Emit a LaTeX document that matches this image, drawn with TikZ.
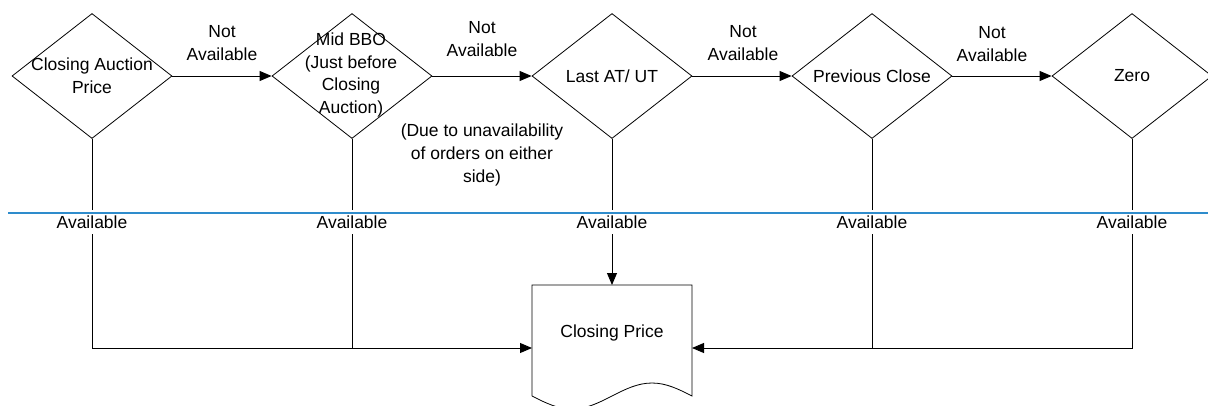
\documentclass[tikz,border=0pt]{standalone}
\usepackage{fontspec}
\setmainfont{Liberation Sans}
\usetikzlibrary{shapes.geometric,arrows.meta}
\definecolor{bluel}{RGB}{46,140,204}
\begin{document}
\begin{tikzpicture}[x=1pt,y=-1pt,
  dia/.style={draw, diamond, minimum width=160pt, minimum height=125pt, inner sep=0pt, line width=0.8pt},
  txt/.style={font=\fontsize{17.5}{22.7}\selectfont, align=center, inner sep=0pt},
  lbl/.style={txt, fill=white, inner xsep=2pt, inner ysep=5.5pt},
  conn/.style={line width=0.9pt},
  arr/.style={conn, -{Triangle[length=12pt,width=10pt]}},
  blueline/.style={draw=bluel, line width=2pt},
]
\useasboundingbox (0,0) rectangle (1208,405);
\clip (0,0) rectangle (1208,405);

% decision diamonds
\node[dia] (d1) at (92,76) {};
\node[dia] (d2) at (352,76) {};
\node[dia] (d3) at (612,76) {};
\node[dia] (d4) at (872,76) {};
\node[dia] (d5) at (1132,76) {};
\node[txt] (t1) at (92,76) {Closing Auction\\Price};
\node[txt] (t2) at (351,75) {Mid BBO\\(Just before\\Closing\\Auction)};
\node[txt] (t3) at (612,76) {Last AT/ UT};
\node[txt] (t4) at (872,76) {Previous Close};
\node[txt] (t5) at (1132,76) {Zero};

% document shape
\node[minimum width=160pt, minimum height=126pt, inner sep=0pt, outer sep=0pt] (box) at (612,348) {};
\coordinate (bl) at (532,396);
\coordinate (br) at (692,396);
\draw[line width=0.8pt] (bl) -- (box.north west) -- (box.north east) -- (br)
   sin (652,383) cos (612,396) sin (572,409) cos (bl);
\node[txt] (tb) at (612,333) {Closing Price};

% horizontal connectors
\draw[arr] (d1.east) -- (d2.west);
\draw[arr] (d2.east) -- (d3.west);
\draw[arr] (d3.east) -- (d4.west);
\draw[arr] (d4.east) -- (d5.west);
\node[txt] (n1) at (222,43) {Not\\Available};
\node[txt] (n2) at (482,39) {Not\\Available};
\node[txt] (n3) at (743,43) {Not\\Available};
\node[txt] (n4) at (992,44) {Not\\Available};
\node[txt] (due) at (482,155) {(Due to unavailability\\of orders on either\\side)};

% vertical connectors
\draw[arr] (d1.south) |- (box.west);
\draw[conn] (d2.south) -- (d2.south |- box.west);
\draw[arr] (d3.south) -- (box.north);
\draw[arr] (d5.south) |- (box.east);
\draw[conn] (d4.south) -- (d4.south |- box.east);

\node[lbl] (a1) at (92,222) {Available};
\node[lbl] (a2) at (352,222) {Available};
\node[lbl] (a3) at (612,222) {Available};
\node[lbl] (a4) at (872,222) {Available};
\node[lbl] (a5) at (1132,222) {Available};

% blue separator
\coordinate (s1) at (8,213);
\coordinate (s2) at (1208,213);
\draw[blueline] (s1) -- (s2);
\end{tikzpicture}
\end{document}
